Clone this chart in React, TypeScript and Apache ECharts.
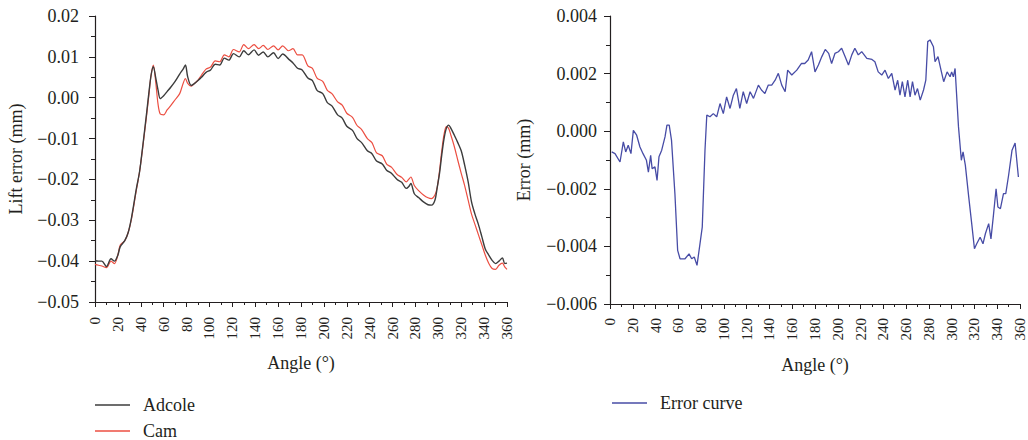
import React, { useEffect, useRef } from "react";
import * as echarts from "echarts";

// ---------- Data ----------
const leftAngles = [
  0, 3, 6, 10, 14, 17, 20, 22, 26, 29, 32, 36, 39, 42, 45, 47, 49, 51, 53, 55, 57, 60, 63, 66, 70, 74, 77, 79, 81, 84,
  87, 90, 93, 97, 101, 105, 109, 113, 117, 121, 126, 130, 134, 139, 143, 147, 151, 156, 160, 164, 169, 173, 177, 181,
  186, 190, 194, 199, 203, 207, 212, 216, 220, 225, 229, 233, 238, 242, 246, 251, 255, 259, 264, 268, 272, 274, 276,
  279, 283, 287, 291, 294, 297, 299, 301, 303, 305, 307, 309, 311, 314, 317, 320, 323, 326, 329, 332, 335, 338, 341,
  344, 347, 350, 353, 356, 358, 360,
];

const adcole = [
  -0.0399, -0.04, -0.04, -0.0413, -0.0394, -0.04, -0.0385, -0.0365, -0.035, -0.033, -0.0292, -0.0225, -0.018, -0.0112,
  -0.004, 0.001, 0.0055, 0.0076, 0.005, 0.002, -0.0002, 0.0005, 0.0015, 0.0025, 0.004, 0.0058, 0.007, 0.008, 0.0051,
  0.003, 0.0035, 0.0042, 0.005, 0.0062, 0.0068, 0.0082, 0.008, 0.0097, 0.0092, 0.0108, 0.01, 0.0115, 0.0105, 0.0117,
  0.0104, 0.0112, 0.01, 0.011, 0.0096, 0.0107, 0.0095, 0.0085, 0.0072, 0.0068, 0.0048, 0.0042, 0.0018, 0.001, -0.0012,
  -0.002, -0.0042, -0.005, -0.007, -0.008, -0.01, -0.011, -0.013, -0.0137, -0.0155, -0.0162, -0.0178, -0.0185, -0.02,
  -0.0207, -0.0222, -0.0218, -0.021, -0.0235, -0.0245, -0.0255, -0.0262, -0.0263, -0.0251, -0.022, -0.0186, -0.014,
  -0.01, -0.0075, -0.0067, -0.0075, -0.0092, -0.011, -0.013, -0.0165, -0.0205, -0.0255, -0.0285, -0.031, -0.034, -0.037,
  -0.0385, -0.0398, -0.0406, -0.04, -0.0392, -0.0406, -0.0405,
];

const cam = [
  -0.0408, -0.041, -0.0412, -0.0416, -0.04, -0.0406, -0.0385, -0.0361, -0.035, -0.033, -0.0295, -0.0228, -0.018, -0.0115,
  -0.0045, 0.0005, 0.0055, 0.008, 0.004, -0.0014, -0.004, -0.0042, -0.003, -0.002, -0.0005, 0.001, 0.0035, 0.0047,
  0.0035, 0.0028, 0.0035, 0.0043, 0.0055, 0.007, 0.0075, 0.009, 0.0088, 0.0105, 0.01, 0.0118, 0.0112, 0.013, 0.012,
  0.013, 0.012, 0.0128, 0.0118, 0.0127, 0.0117, 0.0127, 0.0115, 0.012, 0.0105, 0.0105, 0.0078, 0.0072, 0.0048, 0.004,
  0.0018, 0.001, -0.001, -0.0018, -0.0038, -0.0048, -0.0068, -0.0078, -0.01, -0.011, -0.0135, -0.0142, -0.0163, -0.017,
  -0.0188, -0.0195, -0.0206, -0.02, -0.0194, -0.0215, -0.0228, -0.0238, -0.0245, -0.0247, -0.0238, -0.022, -0.018,
  -0.013, -0.009, -0.0071, -0.0075, -0.0092, -0.012, -0.0153, -0.0185, -0.0215, -0.025, -0.0285, -0.031, -0.0335,
  -0.036, -0.0385, -0.0405, -0.0418, -0.042, -0.041, -0.0405, -0.0414, -0.042,
];

const rightAngles = [
  1.5, 4.4, 8.8, 11.7, 13.8, 16, 18.4, 20.5, 23.4, 26.3, 29, 32, 33.7, 35.7, 37, 39.5, 41.3, 43, 45.4, 48.3, 50, 52, 54,
  57, 59.4, 61.5, 65.9, 69.4, 71.7, 74, 76.4, 79, 81, 83.4, 85, 87.8, 90.7, 93.7, 96.6, 99.5, 102.4, 105.4, 108.3, 111,
  114, 117, 120, 123, 126, 130.3, 133, 136, 139, 142, 145, 147.8, 150.8, 153.8, 156, 159.6, 164, 168, 171, 174, 177,
  180, 183, 186, 189, 192, 194.6, 197.5, 200.5, 203.4, 206.4, 209.4, 212.3, 215, 218, 221, 225.5, 230, 232.6, 235.5,
  238.6, 241.5, 244.4, 247.4, 250.3, 252.6, 254.6, 256.7, 259, 261.4, 263.5, 265.6, 267.8, 270, 272.4, 275.3, 277.3,
  279, 281, 284, 285.4, 288, 291, 293, 296, 298.6, 300, 301.5, 303, 306, 308.5, 310, 312, 315, 317.6, 320, 322, 325,
  327.5, 329.6, 332.5, 334.5, 336.8, 339, 340.6, 342.8, 345.5, 347.5, 350, 353, 355.7, 358.6,
];

const errorCurve = [
  -0.00072, -0.00078, -0.00107, -0.00037, -0.00072, -0.00049, -0.00078, 0.00003, -0.00014, -0.00055, -0.00078, -0.00101,
  -0.00142, -0.00084, -0.0013, -0.00124, -0.00171, -0.00089, -0.00066, -0.0002, 0.00021, 0.00021, -0.00031, -0.00217,
  -0.00414, -0.00443, -0.00443, -0.00426, -0.00443, -0.00437, -0.00466, -0.00391, -0.00333, -0.00066, 0.00056, 0.0005,
  0.00061, 0.0005, 0.00096, 0.00061, 0.00119, 0.00079, 0.00125, 0.00148, 0.00079, 0.00137, 0.00096, 0.00137, 0.00114,
  0.0016, 0.00143, 0.00131, 0.0016, 0.0016, 0.00177, 0.00201, 0.0016, 0.00137, 0.00212, 0.00195, 0.00212, 0.00235,
  0.00235, 0.00247, 0.00276, 0.00206, 0.0023, 0.00259, 0.00284, 0.0027, 0.00235, 0.0027, 0.00276, 0.00288, 0.00259,
  0.0023, 0.00265, 0.00288, 0.00265, 0.00276, 0.00253, 0.00249, 0.00241, 0.00206, 0.00195, 0.00212, 0.00183, 0.00201,
  0.00143, 0.00177, 0.00125, 0.00172, 0.00119, 0.00177, 0.00119, 0.00172, 0.00125, 0.00148, 0.00108, 0.00143, 0.00177,
  0.00311, 0.00317, 0.00293, 0.00241, 0.00259, 0.00206, 0.00172, 0.00206, 0.00189, 0.00206, 0.00189, 0.00218, 0.00015,
  -0.00101, -0.00072, -0.00118, -0.00229, -0.00321, -0.00408, -0.00391, -0.00368, -0.00391, -0.00356, -0.00321,
  -0.00374, -0.00287, -0.002, -0.00263, -0.00269, -0.00217, -0.00217, -0.00153, -0.00066, -0.00041, -0.00159,
];

const seriesNames = ["Adcole", "Cam", "Error curve"];
const axisNames = { leftY: "Lift error (mm)", rightY: "Error (mm)", x: "Angle (°)" };

// ---------- Styles ----------
const FONT = "'Liberation Serif', 'Times New Roman', serif";
const TEXT = "#231f20";
const COLORS = { adcole: "#3c3c3c", cam: "#ec4f42", error: "#474ca6" };

const fmt = (digits: number) => (v: number) => {
  const r = Math.round(v * 1e6) / 1e6;
  const s = Math.abs(r).toFixed(digits);
  return r < 0 ? "\u2212" + s : s;
};

const xAxisBase = (gridIndex: number, margin: number) => ({
  type: "value",
  gridIndex,
  min: 0,
  max: 360,
  interval: 20,
  name: axisNames.x,
  nameLocation: "middle",
  nameGap: 52,
  nameTextStyle: { fontFamily: FONT, fontSize: 18, color: TEXT },
  axisLine: { show: true, onZero: false, lineStyle: { color: "#231f20", width: 1.2 } },
  axisTick: { show: true, inside: false, length: 5, lineStyle: { color: "#231f20", width: 1 } },
  minorTick: { show: true, splitNumber: 2, length: 3, lineStyle: { color: "#231f20", width: 1 } },
  splitLine: { show: false },
  axisLabel: { rotate: 90, margin, fontFamily: FONT, fontSize: 15, color: TEXT },
});

const yAxisBase = (
  gridIndex: number,
  min: number,
  max: number,
  interval: number,
  name: string,
  nameGap: number,
  digits: number,
  margin: number
) => ({
  type: "value",
  gridIndex,
  min,
  max,
  interval,
  name,
  nameLocation: "middle",
  nameGap,
  nameTextStyle: { fontFamily: FONT, fontSize: 18, color: TEXT },
  axisLine: { show: true, onZero: false, lineStyle: { color: "#231f20", width: 1.2 } },
  axisTick: { show: true, inside: false, length: 6, lineStyle: { color: "#231f20", width: 1 } },
  minorTick: { show: true, splitNumber: 2, length: 4, lineStyle: { color: "#231f20", width: 1 } },
  splitLine: { show: false },
  axisLabel: { formatter: fmt(digits), margin, fontFamily: FONT, fontSize: 18, color: TEXT },
});

const legendBase = (names: string[], left: number, top: number) => ({
  data: names,
  orient: "vertical",
  left,
  top,
  height: 60,
  padding: 0,
  icon: "rect",
  itemWidth: 35,
  itemHeight: 1.5,
  itemGap: 8,
  textStyle: { fontFamily: FONT, fontSize: 18, color: TEXT, lineHeight: 14, padding: [0, 0, 0, 8] },
});

export default function App() {
  const ref = useRef<HTMLDivElement>(null);

  useEffect(() => {
    if (!ref.current) return;
    const chart = echarts.init(ref.current, undefined, { renderer: "svg" });

    const pairs = (xs: number[], ys: number[]) => xs.map((x, i) => [x, ys[i]]);

    chart.setOption({
      animation: false,
      backgroundColor: "#ffffff",
      textStyle: { fontFamily: FONT, color: TEXT },
      grid: [
        { left: 95, top: 16, width: 412, height: 286 },
        { left: 610, top: 16, width: 410, height: 288 },
      ],
      xAxis: [xAxisBase(0, 15), xAxisBase(1, 14)],
      yAxis: [
        yAxisBase(0, -0.05, 0.02, 0.01, axisNames.leftY, 70, 2, 16),
        yAxisBase(1, -0.006, 0.004, 0.002, axisNames.rightY, 77, 3, 13),
      ],
      legend: [legendBase([seriesNames[0], seriesNames[1]], 95, 396), legendBase([seriesNames[2]], 612, 394)],
      series: [
        {
          name: seriesNames[0],
          type: "line",
          xAxisIndex: 0,
          yAxisIndex: 0,
          data: pairs(leftAngles, adcole),
          showSymbol: false,
          symbol: "none",
          smooth: 0.3,
          lineStyle: { color: COLORS.adcole, width: 1.4 },
          itemStyle: { color: COLORS.adcole },
          z: 3,
        },
        {
          name: seriesNames[1],
          type: "line",
          xAxisIndex: 0,
          yAxisIndex: 0,
          data: pairs(leftAngles, cam),
          showSymbol: false,
          symbol: "none",
          smooth: 0.3,
          lineStyle: { color: COLORS.cam, width: 1.2 },
          itemStyle: { color: COLORS.cam },
          z: 2,
        },
        {
          name: seriesNames[2],
          type: "line",
          xAxisIndex: 1,
          yAxisIndex: 1,
          data: pairs(rightAngles, errorCurve),
          showSymbol: false,
          symbol: "none",
          lineStyle: { color: COLORS.error, width: 1.3 },
          itemStyle: { color: COLORS.error },
        },
      ],
    });

    return () => chart.dispose();
  }, []);

  return (
    <div
      ref={ref}
      style={{ position: "fixed", left: 0, top: 0, width: 1028, height: 440, background: "#fff" }}
    />
  );
}
